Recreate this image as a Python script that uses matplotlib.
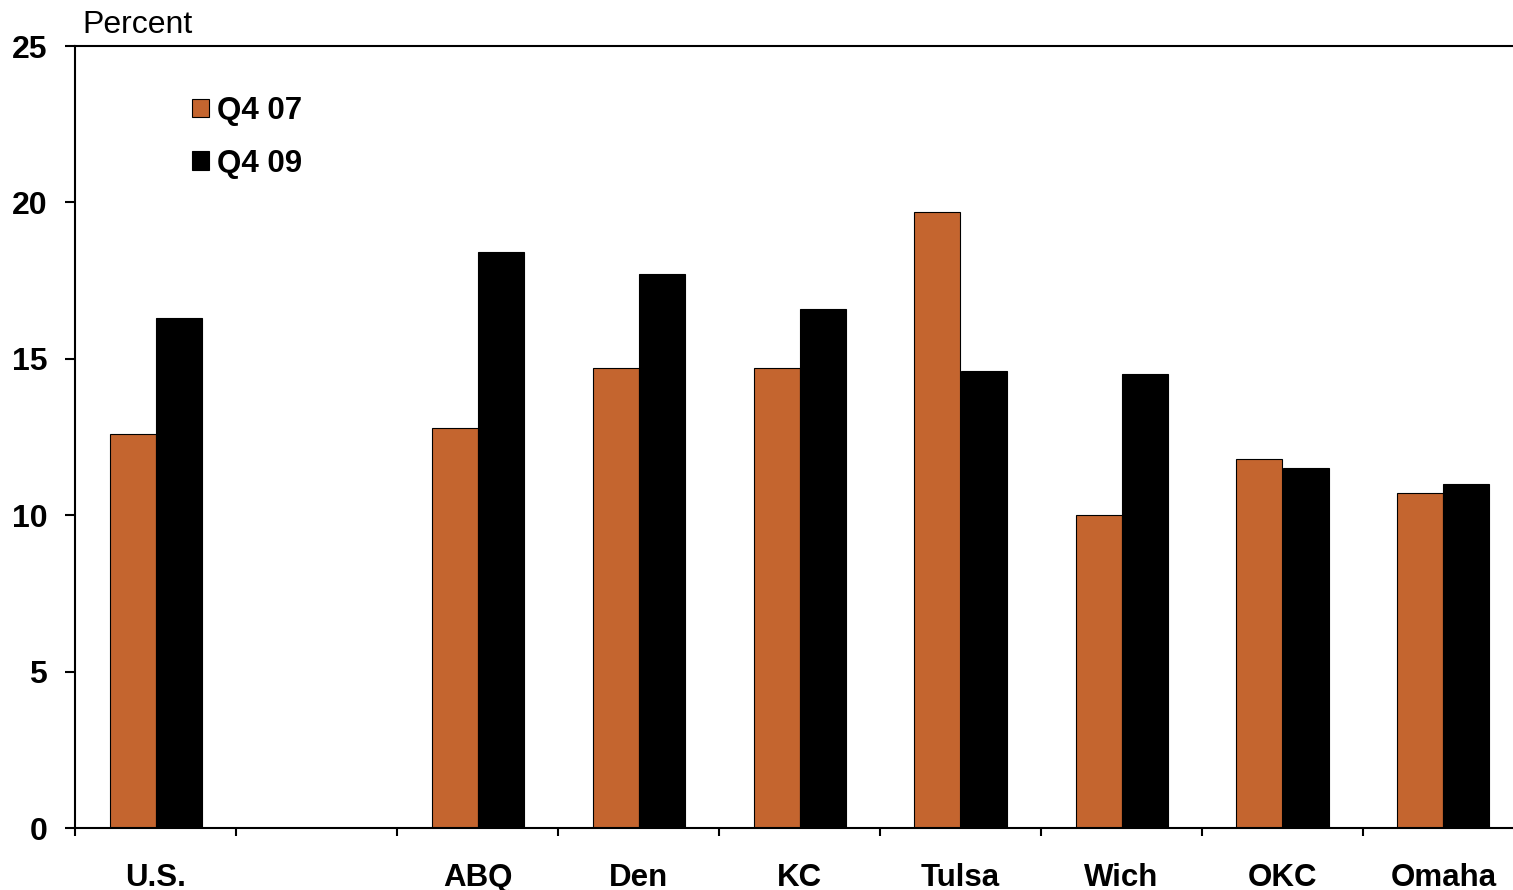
"""Share of ... by metro area, Q4 2007 vs Q4 2009 (percent)."""

import matplotlib
matplotlib.use("Agg")
import matplotlib.pyplot as plt
import numpy as np

regions = ["U.S.", "ABQ", "Den", "KC", "Tulsa", "Wich", "OKC", "Omaha"]
q4_07 = [12.6, 12.8, 14.7, 14.7, 19.7, 10.0, 11.8, 10.7]
q4_09 = [16.3, 18.4, 17.7, 16.6, 14.6, 14.5, 11.5, 11.0]
series_labels = ["Q4 07", "Q4 09"]
yticks = [0, 5, 10, 15, 20, 25]

ORANGE = "#C4652F"

plt.rcParams["font.family"] = ["Liberation Sans", "DejaVu Sans"]

fig = plt.figure(figsize=(15.13, 8.90), dpi=100)
# axes run slightly past the right edge of the canvas
ax = fig.add_axes([75 / 1513, 62 / 890, 1449 / 1513, 782 / 890])

# U.S. sits alone, then one empty slot before the metro areas
pos = np.r_[0, np.arange(2, 2 + len(regions) - 1)]
w = 46 / 161
ax.bar(pos - w / 2, q4_07, width=w, color=ORANGE, edgecolor="black",
       linewidth=0.8, label=series_labels[0])
ax.bar(pos + w / 2, q4_09, width=w, color="black", edgecolor="black",
       linewidth=0.8, label=series_labels[1])

ax.set_xlim(-0.5, 8.5)
ax.set_ylim(0, 25)

# boundary ticks between slots, labels centred under each slot
ax.set_xticks(np.arange(-0.5, 9.0, 1.0))
ax.set_xticklabels([])
ax.set_xticks(pos, minor=True)
ax.set_xticklabels(regions, minor=True, fontsize=22.5, fontweight="bold")
ax.tick_params(axis="x", which="major", direction="out", length=6, width=1.5)
ax.tick_params(axis="x", which="minor", length=0, pad=25)

ax.set_yticks(yticks)
ax.set_yticklabels([str(t) for t in yticks], fontsize=23, fontweight="bold")
ax.tick_params(axis="y", direction="out", length=7, width=1.5, pad=13)

for side in ["left", "bottom", "top"]:
    ax.spines[side].set_linewidth(1.5)
ax.spines["right"].set_visible(False)

fig.text(82 / 1513, 1 - 25 / 890, "Percent", fontsize=23, va="center", ha="left")

leg = ax.legend(loc="upper left", bbox_to_anchor=(0.0722, 0.952), frameon=False,
                prop={"size": 22.5, "weight": "bold"}, handlelength=0.55,
                handleheight=0.55, handletextpad=0.25, labelspacing=0.72,
                borderaxespad=0)

fig.savefig("out.png", dpi=100)
